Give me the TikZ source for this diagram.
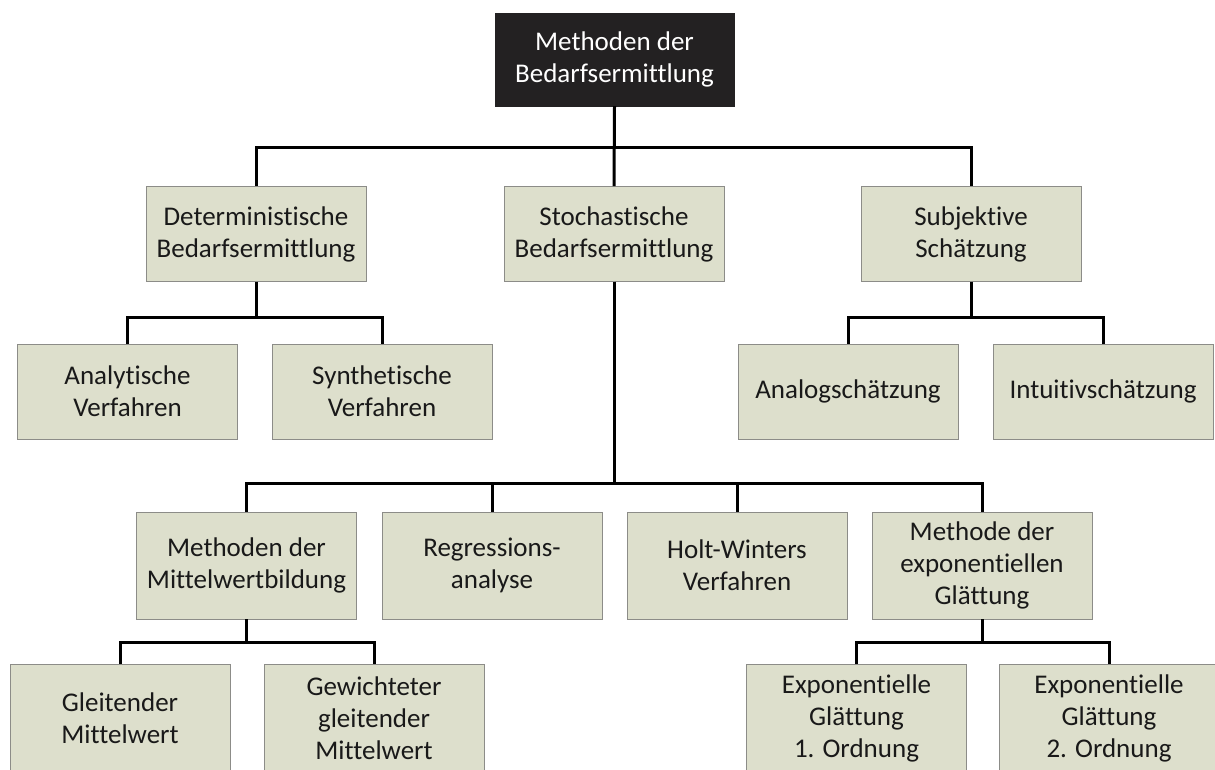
\documentclass[tikz,border=0pt]{standalone}
\usepackage{fontspec}
\setmainfont[Ligatures=NoCommon]{Carlito}
\definecolor{boxfill}{RGB}{221,223,204}
\definecolor{boxline}{RGB}{140,140,136}
\definecolor{rootfill}{RGB}{35,33,34}
\definecolor{txt}{RGB}{25,25,25}
\tikzset{
  box/.style={rectangle, draw=boxline, line width=0.8pt, fill=boxfill,
    text=txt, align=center, inner sep=0pt, minimum width=220pt,
    minimum height=95pt, font=\fontsize{27}{32}\selectfont},
  tallbox/.style={box, minimum height=107pt},
  rootbox/.style={box, fill=rootfill, draw=rootfill, text=white,
    minimum width=239pt, minimum height=93pt},
  link/.style={line width=3pt, black, line join=miter}
}
\begin{document}
\begin{tikzpicture}[x=1pt,y=-1pt]
\useasboundingbox (0,0) rectangle (1215,769);
\clip (0,0) rectangle (1215,769);

% root
\node[rootbox] (root) at (614.5,59.5) {Methoden der\\Bedarfsermittlung};

% first level
\node[box] (det) at (256,234) {Deterministische\\Bedarfsermittlung};
\node[box] (sto) at (614,234) {Stochastische\\Bedarfsermittlung};
\node[box] (sub) at (971,234) {Subjektive\\Schätzung};

% second level
\node[box] (ana) at (127.5,391.5) {Analytische\\Verfahren};
\node[box] (syn) at (382,391.5) {Synthetische\\Verfahren};
\node[box] (alg) at (848,391.5) {Analogschätzung};
\node[box] (int) at (1103,391.5) {Intuitivschätzung};

% stochastic methods
\node[tallbox] (mit) at (246.5,565.5) {Methoden der\\Mittelwertbildung};
\node[tallbox] (reg) at (492,565.5) {Regressions-\\analyse};
\node[tallbox] (hw)  at (737,565.5) {Holt-Winters\\Verfahren};
\node[tallbox] (exg) at (982,565.5) {Methode der\\exponentiellen\\Glättung};

% bottom level
\node[tallbox] (glm) at (120,718) {Gleitender\\Mittelwert};
\node[tallbox] (ggm) at (374,718) {Gewichteter\\gleitender\\Mittelwert};
\node[tallbox] (eg1) at (856.5,718) {Exponentielle\\Glättung\\1. Ordnung};
\node[tallbox] (eg2) at (1109,718) {Exponentielle\\Glättung\\2. Ordnung};

% connectors
\draw[link] (root.south) -- ++(0,41) -| (det.north);
\draw[link] (root.south) -- ++(0,41) -| (sub.north);
\draw[link] (root.south) -- (sto.north);

\draw[link] (det.south) -- ++(0,36) -| (ana.north);
\draw[link] (det.south) -- ++(0,36) -| (syn.north);
\draw[link] (sub.south) -- ++(0,36) -| (alg.north);
\draw[link] (sub.south) -- ++(0,36) -| (int.north);

\draw[link] (sto.south) -- ++(0,202) -| (mit.north);
\draw[link] (sto.south) -- ++(0,202) -| (reg.north);
\draw[link] (sto.south) -- ++(0,202) -| (hw.north);
\draw[link] (sto.south) -- ++(0,202) -| (exg.north);

\draw[link] (mit.south) -- ++(0,23) -| (glm.north);
\draw[link] (mit.south) -- ++(0,23) -| (ggm.north);
\draw[link] (exg.south) -- ++(0,23) -| (eg1.north);
\draw[link] (exg.south) -- ++(0,23) -| (eg2.north);
\end{tikzpicture}
\end{document}
